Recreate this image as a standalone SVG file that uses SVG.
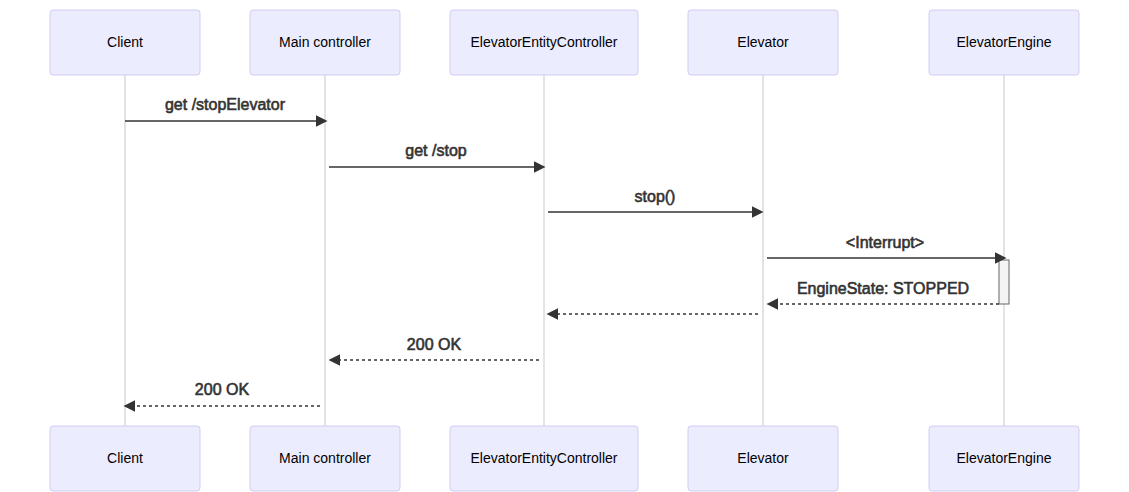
<svg xmlns="http://www.w3.org/2000/svg" width="1129" height="492" viewBox="0 0 1129 492">
<style>
.actor{fill:#ECECFF;stroke:#D3CCF2;stroke-width:1}
.atext{font-family:"Liberation Sans",Arial,sans-serif;font-size:14px;fill:#000;text-anchor:middle;dominant-baseline:central}
.life{stroke:#C8C8C8;stroke-width:1}
.msg{stroke:#333;stroke-width:1.5;fill:none}
.dot{stroke-dasharray:3,3}
.mtext{font-family:"Liberation Sans",Arial,sans-serif;font-size:16px;fill:#333;stroke:#333;stroke-width:0.6;text-anchor:middle;dominant-baseline:central}
.act{fill:#F4F4F4;stroke:#666;stroke-width:1}
</style>
<defs>
<marker id="ah" viewBox="0 0 10 10" refX="7.9" refY="5" markerUnits="userSpaceOnUse" markerWidth="12" markerHeight="12" orient="auto">
<path d="M0,0 L10,5 L0,10 z" fill="#333"/>
</marker>
</defs>
<rect width="1129" height="492" fill="#fff"/>
<g id="lifelines">
<line class="life" x1="125" y1="75" x2="125" y2="426"/>
<line class="life" x1="325" y1="75" x2="325" y2="426"/>
<line class="life" x1="544" y1="75" x2="544" y2="426"/>
<line class="life" x1="763" y1="75" x2="763" y2="426"/>
<line class="life" x1="1004" y1="75" x2="1004" y2="426"/>
</g>
<g id="client">
<rect class="actor" x="50" y="10" width="150" height="65" rx="3"/>
<text class="atext" x="125" y="42">Client</text>
<rect class="actor" x="50" y="426" width="150" height="65" rx="3"/>
<text class="atext" x="125" y="458">Client</text>
</g>
<g id="main-controller">
<rect class="actor" x="250" y="10" width="150" height="65" rx="3"/>
<text class="atext" x="325" y="42">Main controller</text>
<rect class="actor" x="250" y="426" width="150" height="65" rx="3"/>
<text class="atext" x="325" y="458">Main controller</text>
</g>
<g id="elevator-entity-controller">
<rect class="actor" x="450" y="10" width="188" height="65" rx="3"/>
<text class="atext" x="544" y="42">ElevatorEntityController</text>
<rect class="actor" x="450" y="426" width="188" height="65" rx="3"/>
<text class="atext" x="544" y="458">ElevatorEntityController</text>
</g>
<g id="elevator">
<rect class="actor" x="688" y="10" width="150" height="65" rx="3"/>
<text class="atext" x="763" y="42">Elevator</text>
<rect class="actor" x="688" y="426" width="150" height="65" rx="3"/>
<text class="atext" x="763" y="458">Elevator</text>
</g>
<g id="elevator-engine">
<rect class="actor" x="929" y="10" width="150" height="65" rx="3"/>
<text class="atext" x="1004" y="42">ElevatorEngine</text>
<rect class="actor" x="929" y="426" width="150" height="65" rx="3"/>
<text class="atext" x="1004" y="458">ElevatorEngine</text>
<rect class="act" x="999" y="260" width="10" height="44"/>
</g>
<g id="connectors">
<line class="msg" x1="125" y1="121" x2="325" y2="121" marker-end="url(#ah)"/>
<text class="mtext" x="225" y="104">get /stopElevator</text>
<line class="msg" x1="329" y1="167" x2="543" y2="167" marker-end="url(#ah)"/>
<text class="mtext" x="436" y="150">get /stop</text>
<line class="msg" x1="548" y1="212" x2="761" y2="212" marker-end="url(#ah)"/>
<text class="mtext" x="655" y="196">stop()</text>
<line class="msg" x1="767" y1="258" x2="1004" y2="258" marker-end="url(#ah)"/>
<text class="mtext" x="885" y="242">&lt;Interrupt&gt;</text>
<line class="msg dot" x1="999" y1="304" x2="769" y2="304" marker-end="url(#ah)"/>
<text class="mtext" x="883" y="288">EngineState: STOPPED</text>
<line class="msg dot" x1="758" y1="314" x2="549" y2="314" marker-end="url(#ah)"/>
<line class="msg dot" x1="539" y1="360" x2="331" y2="360" marker-end="url(#ah)"/>
<text class="mtext" x="434" y="344">200 OK</text>
<line class="msg dot" x1="320" y1="406" x2="126" y2="406" marker-end="url(#ah)"/>
<text class="mtext" x="222" y="389">200 OK</text>
</g>
</svg>
